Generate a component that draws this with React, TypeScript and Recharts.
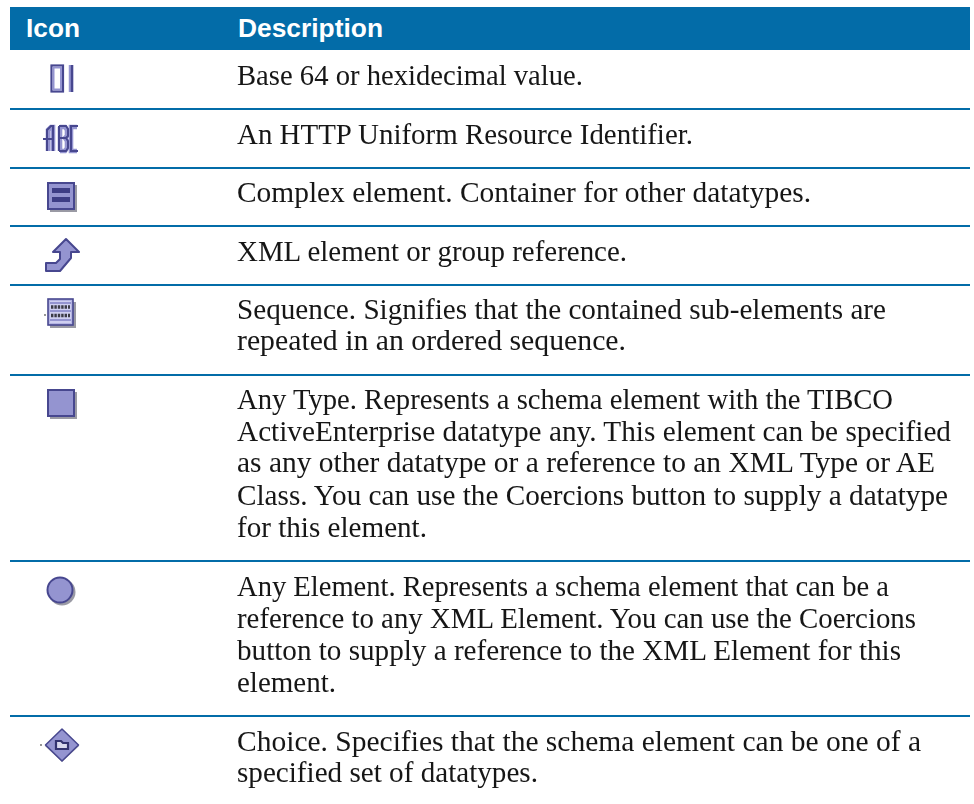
import React from "react";
import { ComposedChart, XAxis, YAxis, Scatter, ReferenceArea, ReferenceLine } from "recharts";

const headerLabels = ["Icon", "Description"];
const headerColumns = [26, 238];
const iconKinds = ["binary", "uri", "complex", "reference", "sequence", "anyType", "anyElement", "choice"];
const iconColumn = [62, 61, 61, 62, 60, 61, 60, 62];
const iconRows = [78, 138, 195, 255, 312, 403, 590, 745];
const separators = [109, 168, 226, 285, 375, 561, 716];
const descriptionLines = [
  "Base 64 or hexidecimal value.",
  "An HTTP Uniform Resource Identifier.",
  "Complex element. Container for other datatypes.",
  "XML element or group reference.",
  "Sequence. Signifies that the contained sub-elements are",
  "repeated in an ordered sequence.",
  "Any Type. Represents a schema element with the TIBCO",
  "ActiveEnterprise datatype any. This element can be specified",
  "as any other datatype or a reference to an XML Type or AE",
  "Class. You can use the Coercions button to supply a datatype",
  "for this element.",
  "Any Element. Represents a schema element that can be a",
  "reference to any XML Element. You can use the Coercions",
  "button to supply a reference to the XML Element for this",
  "element.",
  "Choice. Specifies that the schema element can be one of a",
  "specified set of datatypes.",
];
const lineBaselines = [85, 144, 202, 261, 319, 350, 409, 441, 472, 505, 537, 596, 628, 660, 692, 751, 782];
const lineEnds = [583, 693, 811, 627, 886, 626, 893, 951, 935, 948, 427, 889, 916, 901, 336, 921, 538];

const headerData = headerLabels.map((label, i) => ({ x: headerColumns[i], y: 37, label }));
const iconData = iconKinds.map((kind, i) => ({ x: iconColumn[i], y: iconRows[i], kind }));
const lineData = descriptionLines.map((label, i) => ({ x: 237, y: lineBaselines[i], label, end: lineEnds[i] }));

const BLUE = "#036ca8";
const FILL = "#9494d0";
const DARK = "#47478f";
const SHADOW = "#9a9aa4";

const HeaderText = (p: any) => (
  <text
    x={p.cx}
    y={p.cy}
    fill="#ffffff"
    fontFamily="'Liberation Sans', Arial, sans-serif"
    fontWeight="bold"
    fontSize={26}
    textLength={p.payload.label === "Icon" ? 54 : 145}
    lengthAdjust="spacingAndGlyphs"
  >
    {p.payload.label}
  </text>
);

const LineText = (p: any) => (
  <text
    x={p.cx}
    y={p.cy}
    fill="#151515"
    fontFamily="'Liberation Serif', serif"
    fontSize={28.5}
    textLength={p.payload.end - p.payload.x}
    lengthAdjust="spacingAndGlyphs"
    filter="url(#softText)"
  >
    {p.payload.label}
  </text>
);

const Icon = (p: any) => {
  const { cx: x, cy: y } = p;
  const kind = p.payload.kind;
  let body: React.ReactNode = null;
  if (kind === "binary") {
    body = (
      <g fill="none" stroke={DARK}>
        <rect x={-10.5} y={-12.5} width={11.5} height={26} fill="#fff" strokeWidth={2.2} />
        <rect x={-8.5} y={-10.5} width={7.5} height={22} stroke={FILL} strokeWidth={2} fill="#fff" />
        <path d="M9 -13V14" stroke={FILL} strokeWidth={4.5} />
        <path d="M10 -13V14" strokeWidth={2.4} />
      </g>
    );
  } else if (kind === "uri") {
    body = (
      <g fill="none">
        <g stroke={FILL} strokeWidth={4.6}>
          <path d="M-13 13V-8L-10 -11H-8V13" />
          <path d="M-1 -11V13M-1 -11H4L6 -8V-2L4 0L6 3V10L4 13H-1" />
          <path d="M16 -11H10V13H16" />
        </g>
        <g stroke={DARK} strokeWidth={2}>
          <path d="M-18 1H-7M-14 13V-8L-10 -12H-8V13" />
          <path d="M-2 -12V13M-2 -12H5L7 -9V-2L5 0L7 3V10L5 13H-2M-2 0H5" />
          <path d="M17 -12H10V13H17" />
        </g>
      </g>
    );
  } else if (kind === "complex") {
    body = (
      <g>
        <rect x={-11} y={-10} width={27} height={27} fill={SHADOW} />
        <rect x={-13} y={-12} width={26} height={26} fill={FILL} stroke={DARK} strokeWidth={2} />
        <rect x={-9} y={-7} width={18} height={5} fill="#3d3d85" />
        <rect x={-9} y={2} width={18} height={5} fill="#3d3d85" />
      </g>
    );
  } else if (kind === "reference") {
    body = (
      <path
        d="M4 -16L17 -3H9V3L-2 16H-16V8H-6L-2 4V-3H-9Z"
        fill={FILL}
        stroke={DARK}
        strokeWidth={2}
        strokeLinejoin="round"
      />
    );
  } else if (kind === "sequence") {
    body = (
      <g>
        <rect x={-10} y={-10} width={26} height={26} fill={SHADOW} />
        <rect x={-12} y={-13} width={25} height={26} fill="#b4b4e2" stroke={DARK} strokeWidth={1.6} />
        <rect x={-10} y={-11} width={21} height={22} fill="#cfcff0" />
        <path d="M-10 -9H11M-10 -1H11M-10 8H11" stroke={FILL} strokeWidth={2} />
        <path d="M-9 -5H10M-9 3.5H10" stroke="#3a3a44" strokeWidth={3.6} strokeDasharray="2.4 1" />
        <circle cx={-15} cy={3} r={0.9} fill="#666" />
      </g>
    );
  } else if (kind === "anyType") {
    body = (
      <g>
        <rect x={-11} y={-11} width={27} height={27} fill={SHADOW} />
        <rect x={-13} y={-13} width={26} height={26} fill={FILL} stroke={DARK} strokeWidth={2} />
      </g>
    );
  } else if (kind === "anyElement") {
    body = (
      <g>
        <circle cx={2} cy={2} r={13.5} fill={SHADOW} />
        <circle cx={0} cy={0} r={12.5} fill={FILL} stroke={DARK} strokeWidth={2} />
      </g>
    );
  } else if (kind === "choice") {
    body = (
      <g>
        <path d="M0 -15L17 1L0 17L-17 1Z" fill={SHADOW} />
        <path d="M0 -16L16.5 0L0 16L-16.5 0Z" fill={FILL} stroke={DARK} strokeWidth={1.5} strokeLinejoin="round" />
        <path d="M-6 -4H-1L1 -2H6V4H-6Z" fill="#d8d8ee" stroke="#33336f" strokeWidth={2.2} />
        <circle cx={-21} cy={0} r={0.9} fill="#666" />
      </g>
    );
  }
  return (
    <g transform={`translate(${x},${y})`} filter="url(#softIcon)">
      {body}
    </g>
  );
};

export default function App() {
  return (
    <div style={{ position: "absolute", left: 0, top: 0, width: 974, height: 804, background: "#fff" }}>
      <ComposedChart width={974} height={804} data={lineData} margin={{ top: 0, right: 0, bottom: 0, left: 0 }}>
        <defs>
          <filter id="softText" x="-5%" y="-30%" width="110%" height="160%">
            <feGaussianBlur stdDeviation="0.35" />
          </filter>
          <filter id="softIcon" x="-30%" y="-30%" width="160%" height="160%">
            <feGaussianBlur stdDeviation="0.6" />
          </filter>
        </defs>
        <XAxis type="number" dataKey="x" domain={[0, 974]} hide />
        <YAxis type="number" dataKey="y" domain={[0, 804]} reversed hide />
        <ReferenceArea x1={10} x2={970} y1={7} y2={50} fill={BLUE} fillOpacity={1} stroke="none" />
        {separators.map((y) => (
          <ReferenceLine
            key={y}
            segment={[{ x: 10, y }, { x: 970, y }]}
            stroke={BLUE}
            strokeWidth={2}
          />
        ))}
        <Scatter data={headerData} dataKey="y" shape={HeaderText} isAnimationActive={false} />
        <Scatter data={iconData} dataKey="y" shape={Icon} isAnimationActive={false} />
        <Scatter data={lineData} dataKey="y" shape={LineText} isAnimationActive={false} />
      </ComposedChart>
    </div>
  );
}
